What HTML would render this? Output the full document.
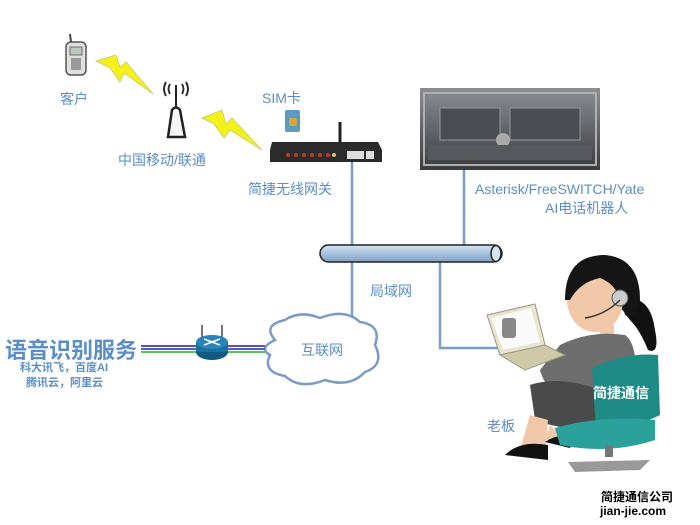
<!DOCTYPE html>
<html><head><meta charset="utf-8"><style>
html,body{margin:0;padding:0;background:#fff;}
svg{display:block;}
text{font-family:"Liberation Sans","Noto Sans CJK SC",sans-serif;}
</style></head><body>
<svg width="700" height="525" viewBox="0 0 700 525" xmlns="http://www.w3.org/2000/svg">
<defs>
<linearGradient id="pipe" x1="0" y1="0" x2="0" y2="1"><stop offset="0" stop-color="#d6e4f2"/><stop offset="0.5" stop-color="#a9c3de"/><stop offset="1" stop-color="#7f9fc3"/></linearGradient>
<linearGradient id="srv" x1="0" y1="0" x2="0" y2="1"><stop offset="0" stop-color="#8a8d92"/><stop offset="1" stop-color="#3a3c40"/></linearGradient>
</defs>
<rect x="66" y="42" width="20" height="33" rx="5" fill="#e0e0e0" stroke="#555" stroke-width="1.5"/>
<rect x="70" y="47" width="12" height="8" fill="#bcc8b8" stroke="#555" stroke-width="0.8"/>
<rect x="71" y="58" width="10" height="12" fill="#999"/>
<line x1="71" y1="42" x2="70" y2="34" stroke="#444" stroke-width="2"/>
<text x="60" y="104" font-size="14" fill="#5b8ec9">客户</text>
<polygon points="96,61 116,55 120,67 126,62 153,94 124,73 120,82 110,68" fill="#f4f01a" stroke="#c8c870" stroke-width="0.8"/>
<path d="M168,137 L172,110 Q176,105 180,110 L185,137 Z" fill="#f5f5f5" stroke="#222" stroke-width="2.5"/>
<line x1="176" y1="107" x2="176" y2="85" stroke="#222" stroke-width="2"/>
<path d="M166,82 Q162,89 166,96 M186,82 Q190,89 186,96 M170,84 Q167,89 170,94 M182,84 Q185,89 182,94" stroke="#222" stroke-width="1.8" fill="none"/>
<text x="118" y="165" font-size="14" fill="#5b8ec9">中国移动/联通</text>
<polygon points="202,118 222,110 226,124 232,118 262,150 230,130 224,138 214,124" fill="#f4f01a" stroke="#c8c870" stroke-width="0.8"/>
<text x="262" y="103" font-size="14" fill="#5b8ec9">SIM卡</text>
<rect x="285" y="110" width="15" height="22" rx="2" fill="#5a9bbf"/>
<rect x="289" y="118" width="8" height="8" rx="2" fill="#d5a640"/>
<line x1="340" y1="122" x2="340" y2="142" stroke="#222" stroke-width="3"/>
<path d="M272,142 L378,142 L382,150 L382,162 L270,162 L270,150 Z" fill="#2b2b2b"/>
<g fill="#c0392b"><circle cx="288" cy="155" r="2"/><circle cx="296" cy="155" r="2"/><circle cx="304" cy="155" r="2"/><circle cx="312" cy="155" r="2"/><circle cx="320" cy="155" r="2"/><circle cx="328" cy="155" r="2"/></g>
<circle cx="334" cy="155" r="2" fill="#d8c070"/>
<rect x="347" y="151" width="17" height="8" fill="#ddd"/><rect x="366" y="151" width="8" height="8" fill="#ddd"/>
<text x="248" y="194" font-size="14" fill="#5b8ec9">简捷无线网关</text>
<rect x="420" y="88" width="180" height="82" fill="url(#srv)"/>
<rect x="424" y="93" width="172" height="72" fill="none" stroke="#b0b0b0" stroke-width="2"/>
<rect x="440" y="108" width="60" height="32" fill="#4a4d52" stroke="#999"/>
<rect x="510" y="108" width="70" height="32" fill="#4a4d52" stroke="#999"/>
<circle cx="503" cy="140" r="7" fill="#aaa"/>
<rect x="428" y="145" width="164" height="15" fill="#55585c"/>
<text x="475" y="194" font-size="14" fill="#5b8ec9">Asterisk/FreeSWITCH/Yate</text>
<text x="545" y="213" font-size="14" fill="#5b8ec9">AI电话机器人</text>
<g stroke="#7a9cc6" stroke-width="2.5" fill="none">
<line x1="352" y1="162" x2="352" y2="246"/>
<line x1="464" y1="170" x2="464" y2="246"/>
<line x1="352" y1="262" x2="352" y2="322"/>
<polyline points="440,262 440,348 512,348"/>
</g>
<rect x="320" y="245" width="182" height="17" rx="8.5" fill="url(#pipe)" stroke="#222" stroke-width="1.5"/>
<ellipse cx="496" cy="253.5" rx="5" ry="8" fill="#d6e4f2" stroke="#222" stroke-width="1.5"/>
<text x="370" y="296" font-size="14" fill="#5b8ec9">局域网</text>
<path d="M275,340 Q262,325 285,320 Q300,310 320,318 Q345,308 360,322 Q382,325 375,345 Q385,365 365,372 Q350,388 325,380 Q300,390 285,376 Q262,372 270,355 Q258,348 275,340 Z" fill="#fff" stroke="#7a9cc6" stroke-width="2.5"/>
<text x="301" y="355" font-size="14" fill="#5b8ec9">互联网</text>
<line x1="141" y1="346" x2="265" y2="346" stroke="#6a4cb0" stroke-width="2"/>
<line x1="141" y1="349" x2="265" y2="349" stroke="#3a6ac0" stroke-width="2"/>
<line x1="141" y1="352" x2="265" y2="352" stroke="#5cc060" stroke-width="2"/>
<line x1="202" y1="325" x2="202" y2="340" stroke="#444" stroke-width="1.5"/>
<line x1="222" y1="325" x2="222" y2="340" stroke="#444" stroke-width="1.5"/>
<ellipse cx="212" cy="352" rx="16" ry="8" fill="#0f5a85"/>
<rect x="196" y="342" width="32" height="10" fill="#1a6fa0"/>
<ellipse cx="212" cy="342" rx="16" ry="7" fill="#2b84b8"/>
<path d="M204,339 L220,345 M220,339 L204,345" stroke="#fff" stroke-width="1.5"/>
<text x="5" y="358" font-size="22" font-weight="bold" fill="#5b8ec9">语音识别服务</text>
<text x="20" y="371" font-size="11" font-weight="bold" fill="#5b8ec9">科大讯飞，百度AI</text>
<text x="26" y="386" font-size="11" font-weight="bold" fill="#5b8ec9">腾讯云，阿里云</text>
<path d="M615,300 Q650,290 655,330 Q660,355 648,350 Q640,330 630,320 Z" fill="#111"/>
<ellipse cx="595" cy="300" rx="28" ry="32" fill="#f2c9a8"/>
<path d="M565,300 Q565,255 605,255 Q640,258 640,300 Q635,320 625,315 Q620,285 600,278 Q580,282 570,300 Z" fill="#151515"/>
<circle cx="620" cy="298" r="8" fill="#ccc" stroke="#555"/>
<path d="M620,300 Q605,315 585,318" stroke="#333" stroke-width="1.5" fill="none"/>
<rect x="600" y="325" width="14" height="15" fill="#f2c9a8"/>
<path d="M560,345 Q590,330 625,335 Q640,345 635,400 L570,405 Q545,390 540,370 Z" fill="#6e6e6e"/>
<path d="M530,385 Q560,375 600,390 L600,430 Q560,430 535,420 Z" fill="#4a4a4a"/>
<path d="M530,415 L520,450 L545,455 L548,420 Z" fill="#f2c9a8"/>
<path d="M505,455 Q520,440 548,445 L548,460 Z" fill="#111"/>
<path d="M550,425 L545,440 L570,442 Z" fill="#f2c9a8"/>
<path d="M545,442 Q560,432 575,438 L570,448 Z" fill="#111"/>
<polygon points="487,315 535,304 545,345 500,355" fill="#e9e4cc" stroke="#9a9680"/>
<polygon points="491,318 531,308 540,342 503,350" fill="#fafafa"/>
<rect x="502" y="318" width="14" height="20" rx="3" fill="#888"/>
<polygon points="500,355 545,345 565,355 525,370" fill="#cfc9a8" stroke="#9a9680"/>
<path d="M592,368 Q625,352 658,355 L660,415 Q630,430 596,432 Z" fill="#1e8b86"/>
<text x="593" y="398" font-size="14" font-weight="bold" fill="#fff">简捷通信</text>
<path d="M555,428 Q600,415 655,420 L655,440 Q610,455 560,445 Z" fill="#2aa19a"/>
<rect x="605" y="445" width="8" height="12" fill="#777"/>
<path d="M568,462 L650,460 L640,470 L575,472 Z" fill="#999"/>
<text x="487" y="431" font-size="14" fill="#5b8ec9">老板</text>
<text x="601" y="501" font-size="12" font-weight="bold" fill="#000">简捷通信公司</text>
<text x="600" y="515" font-size="12" font-weight="bold" fill="#000">jian-jie.com</text>
</svg>
</body></html>
